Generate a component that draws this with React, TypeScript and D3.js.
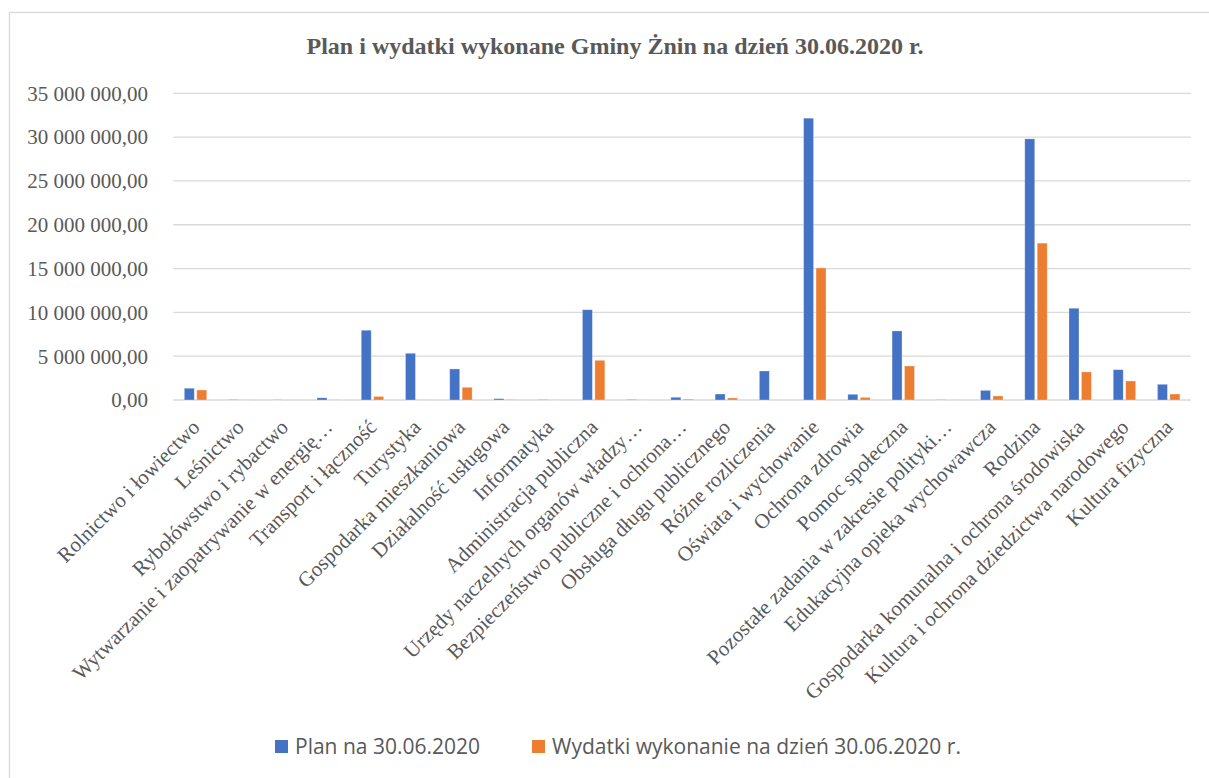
import React from "react";
import * as d3 from "d3";

const categories = [
  "Rolnictwo i łowiectwo",
  "Leśnictwo",
  "Rybołówstwo i rybactwo",
  "Wytwarzanie i zaopatrywanie w energię…",
  "Transport i łączność",
  "Turystyka",
  "Gospodarka mieszkaniowa",
  "Działalność usługowa",
  "Informatyka",
  "Administracja publiczna",
  "Urzędy naczelnych organów władzy…",
  "Bezpieczeństwo publiczne i ochrona…",
  "Obsługa długu publicznego",
  "Różne rozliczenia",
  "Oświata i wychowanie",
  "Ochrona zdrowia",
  "Pomoc społeczna",
  "Pozostałe zadania w zakresie polityki…",
  "Edukacyjna opieka wychowawcza",
  "Rodzina",
  "Gospodarka komunalna i ochrona środowiska",
  "Kultura i ochrona dziedzictwa narodowego",
  "Kultura fizyczna",
];

const planValues = [
  1340000, 30000, 20000, 250000, 7960000, 5330000, 3540000, 150000, 30000,
  10300000, 40000, 310000, 680000, 3310000, 32160000, 650000, 7880000, 20000,
  1100000, 29800000, 10470000, 3460000, 1790000,
];

const wydatkiValues = [
  1140000, 10000, 0, 20000, 400000, 10000, 1450000, 50000, 10000, 4530000,
  10000, 100000, 230000, 0, 15070000, 300000, 3880000, 10000, 460000,
  17900000, 3200000, 2170000, 680000,
];

const seriesNames = ["Plan na 30.06.2020", "Wydatki wykonanie na dzień 30.06.2020 r."];
const seriesColors = ["#4472C4", "#ED7D31"];
const yTicks = [0, 5000000, 10000000, 15000000, 20000000, 25000000, 30000000, 35000000];
const title = "Plan i wydatki wykonane Gminy Żnin na dzień 30.06.2020 r.";

const W = 1209;
const H = 778;
const plotLeft = 173.4;
const plotRight = 1190.8;
const plotTop = 93.3;
const plotBottom = 400;

const locale = d3.formatLocale({
  decimal: ",",
  thousands: "\u00a0",
  grouping: [3],
  currency: ["", ""],
});
const fmt = locale.format(",.2f");

export default function App() {
  const x0 = d3.scaleBand<string>().domain(categories).range([plotLeft, plotRight]).padding(0);
  const bw = x0.bandwidth();
  const x1 = d3
    .scaleBand<string>()
    .domain(seriesNames)
    .range([bw / 2 - 11.2, bw / 2 + 11.2])
    .paddingInner(0.2);
  const y = d3.scaleLinear().domain([0, 35000000]).range([plotBottom, plotTop]);
  const series = [planValues, wydatkiValues];

  const serif = "'Liberation Serif', 'Times New Roman', serif";
  const sans = "'Open Sans', 'Liberation Sans', sans-serif";
  const gray = "#595959";

  return (
    <svg
      width={W}
      height={H}
      style={{ position: "absolute", left: 0, top: 0, background: "#fff" }}
    >
      <rect x={9.5} y={12.5} width={1230} height={800} fill="#fff" stroke="#d9d9d9" strokeWidth={1.3} />
      <text
        x={615}
        y={53.5}
        textAnchor="middle"
        fontFamily={serif}
        fontWeight="bold"
        fontSize={22.5}
        fill={gray}
        textLength={617}
        lengthAdjust="spacingAndGlyphs"
      >
        {title}
      </text>
      {yTicks.map((t) => (
        <g key={t}>
          <line
            x1={plotLeft}
            x2={plotRight}
            y1={y(t)}
            y2={y(t)}
            stroke="#d9d9d9"
            strokeWidth={1.3}
          />
          <text
            x={148}
            y={y(t)}
            dy="0.35em"
            textAnchor="end"
            fontFamily={serif}
            fontSize={21}
            fill={gray}
          >
            {fmt(t)}
          </text>
        </g>
      ))}
      {categories.map((c, i) => (
        <g key={c} transform={`translate(${x0(c)},0)`}>
          {series.map((vals, s) => {
            const v = vals[i];
            const top = y(v);
            return (
              <rect
                key={s}
                x={x1(seriesNames[s])}
                y={top}
                width={x1.bandwidth()}
                height={Math.max(0, plotBottom - top)}
                fill={seriesColors[s]}
                stroke="#ffffff"
                strokeOpacity={0.35}
                strokeWidth={0.8}
              />
            );
          })}
        </g>
      ))}
      {categories.map((c) => {
        const cx = (x0(c) as number) + bw / 2;
        return (
          <text
            key={"l" + c}
            transform={`translate(${cx + 1},424) rotate(-45)`}
            dy="0.3em"
            textAnchor="end"
            fontFamily={serif}
            fontSize={21}
            fill={gray}
          >
            {c}
          </text>
        );
      })}
      <g>
        <rect x={275} y={740} width={13} height={13} fill={seriesColors[0]} />
        <text x={295} y={753.5} fontFamily={sans} fontSize={21} fill={gray}>
          {seriesNames[0]}
        </text>
        <rect x={532} y={740} width={13} height={13} fill={seriesColors[1]} />
        <text x={552} y={753.5} fontFamily={sans} fontSize={21} fill={gray}>
          {seriesNames[1]}
        </text>
      </g>
    </svg>
  );
}
